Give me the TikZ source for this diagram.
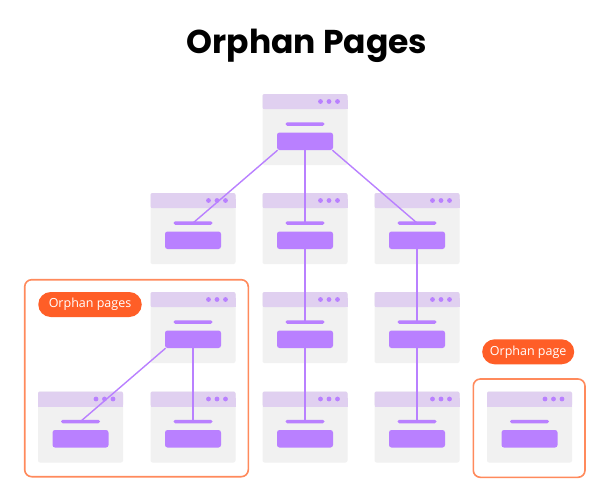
\documentclass[tikz,border=0pt]{standalone}
\usepackage{fontspec}
\newfontfamily\titlefont{Poppins}
\newfontfamily\pillfont{Open Sans}
\usetikzlibrary{calc}
\definecolor{purp}{HTML}{B980FF}
\definecolor{hdr}{HTML}{E0D0F0}
\definecolor{bodyg}{HTML}{F1F1F1}
\definecolor{orfill}{HTML}{FF5E27}
\definecolor{orline}{HTML}{FF8A5C}
\tikzset{
  cardbody/.style={fill=bodyg, rounded corners=2pt, minimum width=85pt, minimum height=71pt, inner sep=0pt, draw=none},
  barnode/.style={fill=purp, minimum width=39pt, minimum height=3.5pt, inner sep=0pt, rounded corners=1.7pt},
  btnnode/.style={fill=purp, minimum width=56pt, minimum height=17.5pt, inner sep=0pt, rounded corners=2.5pt},
  conn/.style={draw=purp, line width=1.4pt},
  pill/.style={fill=orfill, text=white, rounded corners=12.5pt, minimum height=25pt, inner sep=0pt, font=\pillfont\fontsize{12.5}{14}\selectfont},
  orbox/.style={draw=orline, line width=1.6pt, rounded corners=7pt, fill=white},
}
% #1 name, #2 center x, #3 top y
\newcommand\pagecard[3]{%
  \node[cardbody] (#1) at (#2, #3+35.5) {};
  \fill[hdr, rounded corners=2pt] (#2-42.5, #3) rectangle (#2+42.5, #3+15);
  \fill[hdr] (#2-42.5, #3+6) rectangle (#2+42.5, #3+15);
  \fill[purp] (#2+15.5, #3+7.5) circle (2.4pt);
  \fill[purp] (#2+24, #3+7.5) circle (2.4pt);
  \fill[purp] (#2+32.5, #3+7.5) circle (2.4pt);
  \node[barnode] (#1b) at (#2, #3+30) {};
  \node[btnnode] (#1k) at (#2, #3+47.25) {};
}
\begin{document}
\begin{tikzpicture}[x=1pt, y=-1pt]
\useasboundingbox (0,0) rectangle (598,490);
\fill[white] (0,0) rectangle (598,490);

\node[anchor=base, font=\titlefont\bfseries\fontsize{33}{38}\selectfont] (title) at (307,53) {Orphan Pages};

% orange boxes
\draw[orbox] (24.7,279.7) rectangle (248.3,476.7);
\draw[orbox] (473.3,379) rectangle (585,477.3);

% cards
\pagecard{top}{305}{94}
\pagecard{a}{193}{193}
\pagecard{b}{305}{193}
\pagecard{c}{417}{193}
\pagecard{d}{193}{292}
\pagecard{e}{305}{292}
\pagecard{f}{417}{292}
\pagecard{g}{80.5}{391.5}
\pagecard{h}{193}{391.5}
\pagecard{i}{305}{391.5}
\pagecard{j}{417}{391.5}
\pagecard{k}{529.5}{391.5}

% pills
\node[pill, minimum width=103.5pt] (p1) at (90,304.5) {Orphan pages};
\node[pill, minimum width=92pt] (p2) at (528.2,351.8) {Orphan page};

% connectors
\draw[conn] ([xshift=0.8pt]topk.south west) -- (ab.center);
\draw[conn] (topk.south) -- (bb.center);
\draw[conn] ([xshift=-0.8pt]topk.south east) -- (cb.center);
\draw[conn] (bk.south) -- (eb.center);
\draw[conn] (ck.south) -- (fb.center);
\draw[conn] (ek.south) -- (ib.center);
\draw[conn] (fk.south) -- (jb.center);
\draw[conn] ([xshift=0.8pt]dk.south west) -- (gb.center);
\draw[conn] (dk.south) -- (hb.center);
\end{tikzpicture}
\end{document}
